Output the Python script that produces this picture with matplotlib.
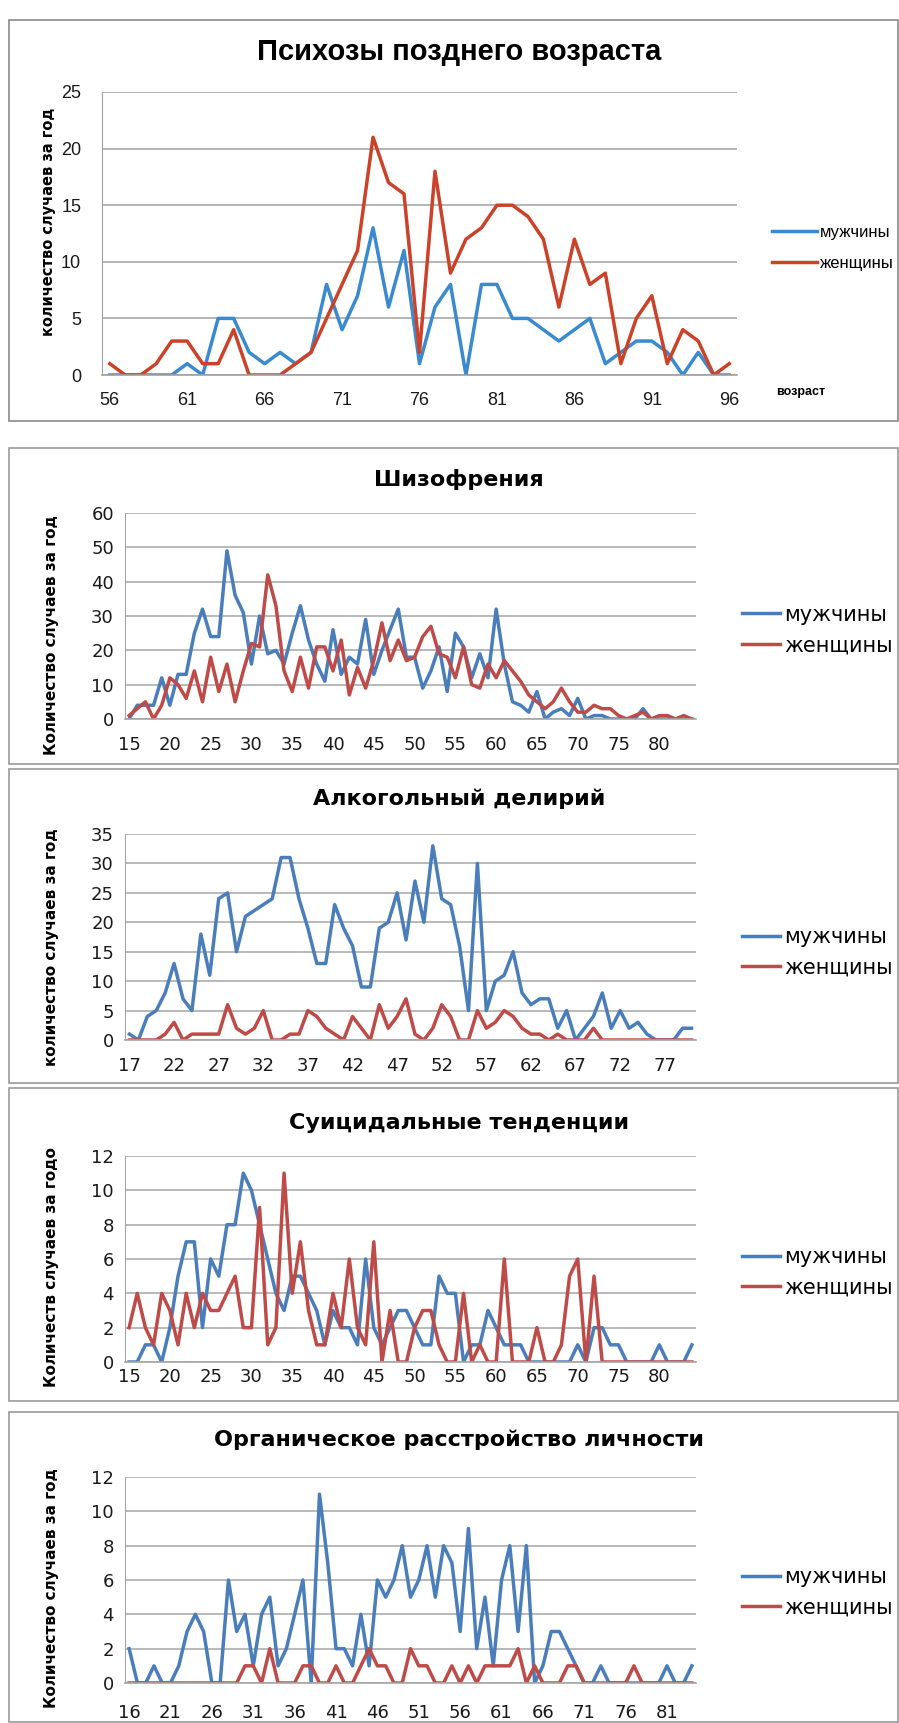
import numpy as np
import matplotlib.pyplot as plt
from matplotlib.patches import Rectangle

# --- data -------------------------------------------------------------
ages1 = list(range(56, 97))
men1 = [0, 0, 0, 0, 0, 1, 0, 5, 5, 2, 1, 2, 1, 2, 8, 4, 7, 13, 6, 11, 1,
        6, 8, 0, 8, 8, 5, 5, 4, 3, 4, 5, 1, 2, 3, 3, 2, 0, 2, 0, 0]
women1 = [1, 0, 0, 1, 3, 3, 1, 1, 4, 0, 0, 0, 1, 2, 5, 8, 11, 21, 17, 16, 2,
          18, 9, 12, 13, 15, 15, 14, 12, 6, 12, 8, 9, 1, 5, 7, 1, 4, 3, 0, 1]

ages2 = list(range(15, 85))
men2 = [0, 4, 4, 4, 12, 4, 13, 13, 25, 32, 24, 24, 49, 36, 31, 16, 30, 19, 20, 16,
        25, 33, 23, 16, 11, 26, 13, 18, 16, 29, 13, 20, 26, 32, 18, 18, 9, 14, 21, 8,
        25, 21, 12, 19, 12, 32, 16, 5, 4, 2, 8, 0, 2, 3, 1, 6, 0, 1, 1, 0,
        0, 0, 0, 3, 0, 0, 0, 0, 0, 0]
women2 = [1, 3, 5, 0, 4, 12, 10, 6, 14, 5, 18, 8, 16, 5, 14, 22, 21, 42, 33, 14,
          8, 18, 9, 21, 21, 14, 23, 7, 15, 9, 17, 28, 17, 23, 17, 18, 24, 27, 19, 18,
          12, 21, 10, 9, 16, 12, 17, 14, 11, 7, 5, 3, 5, 9, 5, 2, 2, 4, 3, 3,
          1, 0, 1, 2, 0, 1, 1, 0, 1, 0]

ages3 = list(range(17, 81))
men3 = [1, 0, 4, 5, 8, 13, 7, 5, 18, 11, 24, 25, 15, 21, 22, 23, 24, 31, 31, 24,
        19, 13, 13, 23, 19, 16, 9, 9, 19, 20, 25, 17, 27, 20, 33, 24, 23, 16, 5, 30,
        5, 10, 11, 15, 8, 6, 7, 7, 2, 5, 0, 2, 4, 8, 2, 5, 2, 3, 1, 0,
        0, 0, 2, 2]
women3 = [0, 0, 0, 0, 1, 3, 0, 1, 1, 1, 1, 6, 2, 1, 2, 5, 0, 0, 1, 1,
          5, 4, 2, 1, 0, 4, 2, 0, 6, 2, 4, 7, 1, 0, 2, 6, 4, 0, 0, 5,
          2, 3, 5, 4, 2, 1, 1, 0, 1, 0, 0, 0, 2, 0, 0, 0, 0, 0, 0, 0,
          0, 0, 0, 0]

ages4 = list(range(15, 85))
men4 = [0, 0, 1, 1, 0, 2, 5, 7, 7, 2, 6, 5, 8, 8, 11, 10, 8, 6, 4, 3,
        5, 5, 4, 3, 1, 3, 2, 2, 1, 6, 2, 1, 2, 3, 3, 2, 1, 1, 5, 4,
        4, 0, 1, 1, 3, 2, 1, 1, 1, 0, 0, 0, 0, 0, 0, 1, 0, 2, 2, 1,
        1, 0, 0, 0, 0, 1, 0, 0, 0, 1]
women4 = [2, 4, 2, 1, 4, 3, 1, 4, 2, 4, 3, 3, 4, 5, 2, 2, 9, 1, 2, 11,
          4, 7, 3, 1, 1, 4, 2, 6, 2, 1, 7, 0, 3, 0, 0, 2, 3, 3, 1, 0,
          0, 4, 0, 1, 0, 0, 6, 0, 0, 0, 2, 0, 0, 1, 5, 6, 0, 5, 0, 0,
          0, 0, 0, 0, 0, 0, 0, 0, 0, 0]

ages5 = list(range(16, 85))
men5 = [2, 0, 0, 1, 0, 0, 1, 3, 4, 3, 0, 0, 6, 3, 4, 1, 4, 5, 1, 2,
        4, 6, 0, 11, 7, 2, 2, 1, 4, 1, 6, 5, 6, 8, 5, 6, 8, 5, 8, 7,
        3, 9, 2, 5, 1, 6, 8, 3, 8, 0, 1, 3, 3, 2, 1, 0, 0, 1, 0, 0,
        0, 0, 0, 0, 0, 1, 0, 0, 1]
women5 = [0, 0, 0, 0, 0, 0, 0, 0, 0, 0, 0, 0, 0, 0, 1, 1, 0, 2, 0, 0,
          0, 1, 1, 0, 0, 1, 0, 0, 1, 2, 1, 1, 0, 0, 2, 1, 1, 0, 0, 1,
          0, 1, 0, 1, 1, 1, 1, 2, 0, 1, 0, 0, 0, 1, 1, 0, 0, 0, 0, 0,
          0, 1, 0, 0, 0, 0, 0, 0, 0]

labels = ["мужчины", "женщины"]

W, H = 899, 1723
fig = plt.figure(figsize=(W / 100, H / 100), dpi=100)
fig.patch.set_facecolor("white")

NARROW = ["Liberation Sans", "DejaVu Sans"]


def fx(x):
    return x / W


def fy(y):
    return 1 - y / H


def box(x0, y0, x1, y1, color="#9a9a9a"):
    fig.add_artist(Rectangle((fx(x0), fy(y1)), (x1 - x0) / W, (y1 - y0) / H,
                             transform=fig.transFigure, fill=False,
                             ec=color, lw=1.2))


def panel(rect, ages, men, women, ymax, ystep, tick0, cols, xpad, ypad,
          tickfont, ticksize, grid="#a6a6a6"):
    x0, y0, x1, y1 = rect
    ax = fig.add_axes([fx(x0), fy(y1), (x1 - x0) / W, (y1 - y0) / H])
    l1, = ax.plot(ages, men, color=cols[0], lw=2.5, solid_joinstyle="round")
    l2, = ax.plot(ages, women, color=cols[1], lw=2.5, solid_joinstyle="round")
    ax.set_xlim(ages[0] - 0.5, ages[-1] + 0.5)
    ax.set_ylim(0, ymax)
    ax.set_xticks(list(range(tick0, ages[-1] + 1, 5)))
    ax.set_yticks(np.arange(0, ymax + 0.1, ystep))
    ax.yaxis.grid(True, color=grid, lw=1.1)
    ax.set_axisbelow(True)
    for s in ["top", "right"]:
        ax.spines[s].set_visible(False)
    ax.spines["left"].set_color(grid)
    ax.spines["bottom"].set_color(grid)
    ax.spines["bottom"].set_linewidth(1.2)
    ax.tick_params(length=0, labelsize=ticksize, colors="#1a1a1a")
    ax.tick_params(axis="x", pad=xpad)
    ax.tick_params(axis="y", pad=ypad)
    for t in ax.get_xticklabels() + ax.get_yticklabels():
        t.set_family(tickfont)
    return ax, l1, l2


# --- panel 1 ----------------------------------------------------------
box(9, 20, 898, 421, "#8a8a8a")
ax, l1, l2 = panel((102, 92, 737, 375), ages1, men1, women1, 25, 5, 56,
                   ("#3a8ad0", "#cc4228"), 12, 15, NARROW, 13, "#a0a0a0")
fig.text(fx(459), fy(52), "Психозы позднего возраста", ha="center", va="center",
         fontsize=21, fontweight="bold", family=NARROW)
fig.text(fx(49), fy(222), "количество случаев за год", rotation=90,
         ha="center", va="center", fontsize=10.5, fontweight="bold")
fig.text(fx(801), fy(392), "возраст", ha="center", va="center",
         fontsize=9, fontweight="bold", family=NARROW)
ax.legend([l1, l2], labels, loc="center left",
          bbox_to_anchor=(fx(764), fy(248)), bbox_transform=fig.transFigure,
          frameon=False, prop={"family": NARROW, "size": 12},
          handlelength=2.7, handletextpad=0.15, labelspacing=1.0, borderpad=0)

# --- panels 2-5 ------------------------------------------------------
COLS = ("#4a7ebb", "#be4b48")
specs = [
    dict(box=(9, 448, 898, 764), rect=(125, 513, 696, 719), ages=ages2,
         men=men2, women=women2, ymax=60, ystep=10, tick0=15, xpad=12,
         title="Шизофрения", ty=480, ylabel="Количество случаев за год",
         ly=635, gy=630),
    dict(box=(9, 769, 898, 1083), rect=(125, 834, 696, 1040), ages=ages3,
         men=men3, women=women3, ymax=35, ystep=5, tick0=17, xpad=12,
         title="Алкогольный делирий", ty=799, ylabel="количество случаев за год",
         ly=947, gy=952),
    dict(box=(9, 1088, 898, 1401), rect=(125, 1156, 696, 1362), ages=ages4,
         men=men4, women=women4, ymax=12, ystep=2, tick0=15, xpad=4,
         title="Суицидальные тенденции", ty=1123, ylabel="Количеств случаев за годо",
         ly=1267, gy=1272),
    dict(box=(9, 1412, 898, 1722), rect=(125, 1477, 696, 1683), ages=ages5,
         men=men5, women=women5, ymax=12, ystep=2, tick0=16, xpad=15,
         title="Органическое расстройство личности", ty=1440,
         ylabel="Количество случаев за год", ly=1588, gy=1592),
]

for s in specs:
    box(*s["box"])
    ax, l1, l2 = panel(s["rect"], s["ages"], s["men"], s["women"], s["ymax"],
                       s["ystep"], s["tick0"], COLS, s["xpad"], 8,
                       "DejaVu Sans", 13)
    fig.text(fx(459), fy(s["ty"]), s["title"], ha="center", va="center",
             fontsize=16, fontweight="bold")
    fig.text(fx(52), fy(s["ly"]), s["ylabel"], rotation=90, ha="center",
             va="center", fontsize=11, fontweight="bold")
    ax.legend([l1, l2], labels, loc="center left",
              bbox_to_anchor=(fx(732), fy(s["gy"])), bbox_transform=fig.transFigure,
              frameon=False, prop={"size": 15}, handlelength=1.8,
              handletextpad=0.2, labelspacing=0.5, borderpad=0)

fig.savefig("out.png", dpi=100, facecolor="white")
